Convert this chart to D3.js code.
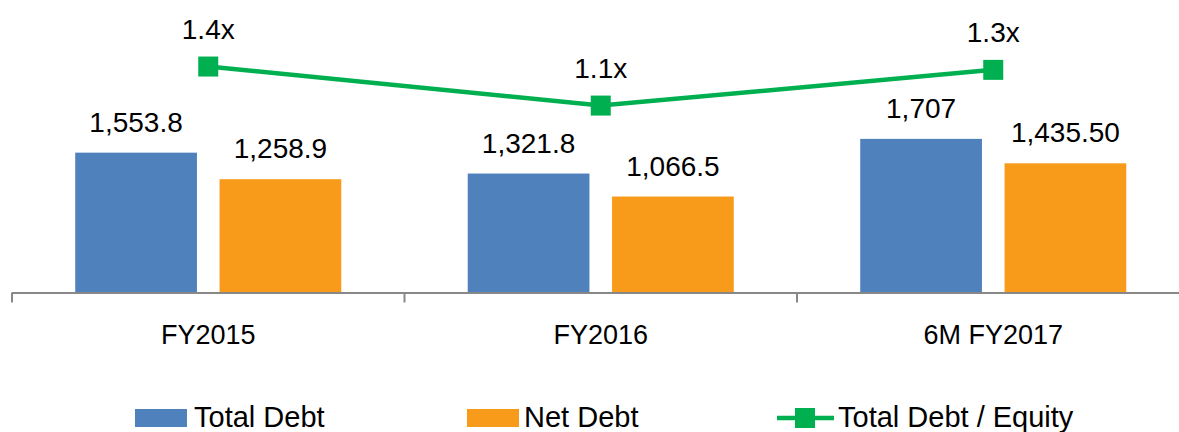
<!DOCTYPE html>
<html>
<head>
<meta charset="utf-8">
<script src="https://cdn.jsdelivr.net/npm/d3@7"></script>
<style>
	body { margin: 0; background: white; }
	text { font-family: "Liberation Sans", Arial, sans-serif; fill: #000; }
</style>
</head>
<body>
<script>
// values
var categories = ['FY2015', 'FY2016', '6M FY2017']
var series = ['Total Debt', 'Net Debt']
var totalDebt = [1553.8, 1321.8, 1707]
var netDebt = [1258.9, 1066.5, 1435.5]
var totalLabels = ['1,553.8', '1,321.8', '1,707']
var netLabels = ['1,258.9', '1,066.5', '1,435.50']
var debtEquity = [1.36, 1.125, 1.34]
var lineName = 'Total Debt / Equity'

var color = d3.scaleOrdinal()
	.domain(series)
	.range(['#4F81BD', '#F99B1A'])
var green = '#00B050'

var width = 1179,
	height = 432

var svg = d3.select('body').append('svg')
	.attr('width', width)
	.attr('height', height)

var x0 = d3.scaleBand()
	.domain(categories)
	.range([12, 1189.5])

var x1 = d3.scaleBand()
	.domain(series)
	.range([0, x0.bandwidth()])
	.paddingInner(0.1566)
	.paddingOuter(0.438)

var y = d3.scaleLinear()
	.domain([0, 3000])
	.range([292.5, 22.5])

// secondary axis for the ratio line
var y2 = d3.scaleLinear()
	.domain([0, 1.625])
	.range([292.5, 22.5])

var rows = categories.map((c, i) => ({
	cat: c,
	values: [
		{key: 'Total Debt', v: totalDebt[i], label: totalLabels[i]},
		{key: 'Net Debt', v: netDebt[i], label: netLabels[i]}
	]
}))

var groups = svg.selectAll('g.cat')
	.data(rows)
	.enter()
	.append('g')
		.attr('class', 'cat')
		.attr('transform', d => 'translate(' + x0(d.cat) + ',0)')

groups.selectAll('rect')
	.data(d => d.values)
	.enter()
	.append('rect')
		.attr('x', d => x1(d.key))
		.attr('y', d => y(d.v))
		.attr('width', x1.bandwidth())
		.attr('height', d => y(0) - y(d.v))
		.attr('fill', d => color(d.key))

groups.selectAll('text.val')
	.data(d => d.values)
	.enter()
	.append('text')
		.attr('class', 'val')
		.attr('x', d => x1(d.key) + x1.bandwidth() / 2)
		.attr('y', d => y(d.v) - 21)
		.attr('text-anchor', 'middle')
		.style('font-size', '28px')
		.text(d => d.label)

// x axis: line + ticks between categories
var axis = svg.append('g')
axis.append('line')
	.attr('x1', x0.range()[0])
	.attr('x2', x0.range()[1])
	.attr('y1', y(0) + 0.5)
	.attr('y2', y(0) + 0.5)
	.attr('stroke', '#888')
	.attr('stroke-width', 2)

var tickPos = categories.map(c => x0(c)).concat([x0.range()[1]])
axis.selectAll('line.tick')
	.data(tickPos)
	.enter()
	.append('line')
		.attr('class', 'tick')
		.attr('x1', d => d)
		.attr('x2', d => d)
		.attr('y1', y(0))
		.attr('y2', y(0) + 10)
		.attr('stroke', '#888')
		.attr('stroke-width', 2)

axis.selectAll('text')
	.data(categories)
	.enter()
	.append('text')
		.attr('x', d => x0(d) + x0.bandwidth() / 2)
		.attr('y', 344)
		.attr('text-anchor', 'middle')
		.style('font-size', '27px')
		.text(d => d)

// ratio line
var cx = (d, i) => x0(categories[i]) + x0.bandwidth() / 2

svg.append('path')
	.datum(debtEquity)
	.attr('d', d3.line().x(cx).y(d => y2(d)))
	.attr('fill', 'none')
	.attr('stroke', green)
	.attr('stroke-width', 4.5)

svg.selectAll('rect.marker')
	.data(debtEquity)
	.enter()
	.append('rect')
		.attr('class', 'marker')
		.attr('x', (d, i) => cx(d, i) - 10)
		.attr('y', d => y2(d) - 10)
		.attr('width', 20)
		.attr('height', 20)
		.attr('fill', green)

svg.selectAll('text.ratio')
	.data(debtEquity)
	.enter()
	.append('text')
		.attr('class', 'ratio')
		.attr('x', (d, i) => cx(d, i))
		.attr('y', d => y2(d) - 28)
		.attr('text-anchor', 'middle')
		.style('font-size', '28px')
		.text(d => d3.format('.1f')(d) + 'x')

// LEGEND
var legendY = 417
var legend = svg.append('g')

legend.selectAll('rect.sw')
	.data(series)
	.enter()
	.append('rect')
		.attr('class', 'sw')
		.attr('x', (d, i) => [135, 467][i])
		.attr('y', legendY - 8)
		.attr('width', 52)
		.attr('height', 18)
		.attr('fill', d => color(d))

legend.selectAll('text.sw')
	.data(series)
	.enter()
	.append('text')
		.attr('class', 'sw')
		.attr('x', (d, i) => [194, 524][i])
		.attr('y', legendY + 10)
		.style('font-size', '29px')
		.text(d => d)

legend.append('line')
	.attr('x1', 777)
	.attr('x2', 834)
	.attr('y1', legendY + 1)
	.attr('y2', legendY + 1)
	.attr('stroke', green)
	.attr('stroke-width', 4.5)

legend.append('rect')
	.attr('x', 795)
	.attr('y', legendY - 9)
	.attr('width', 20)
	.attr('height', 20)
	.attr('fill', green)

legend.append('text')
	.attr('x', 838)
	.attr('y', legendY + 10)
	.style('font-size', '29px')
	.text(lineName)
</script>
</body>
</html>
